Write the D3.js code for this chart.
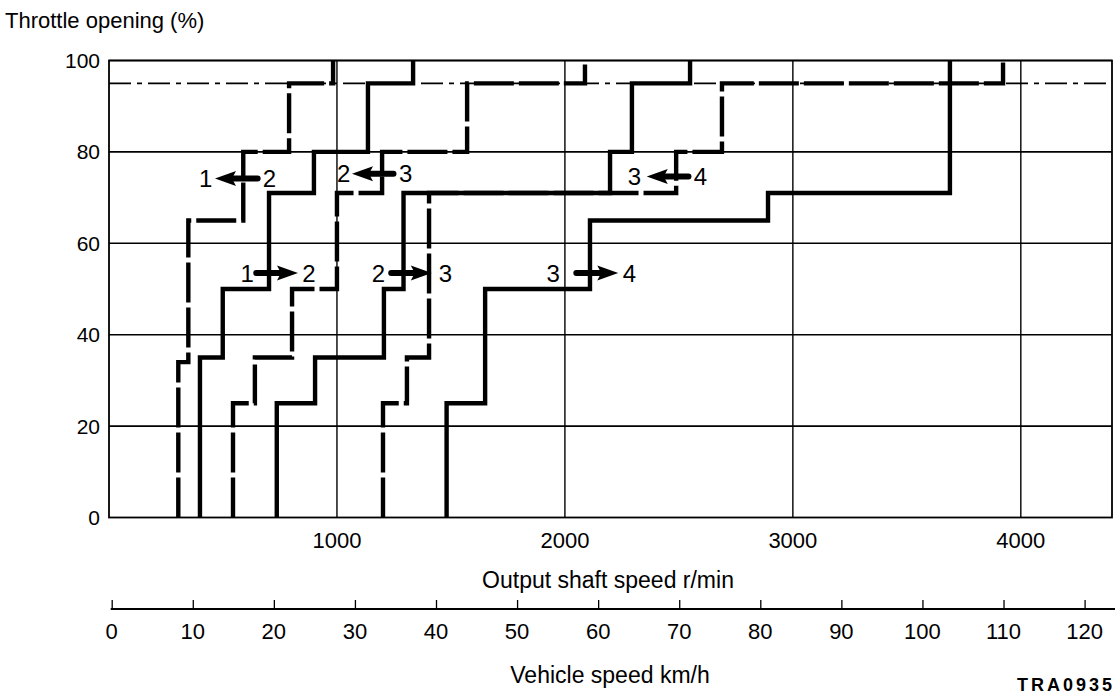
<!DOCTYPE html>
<html><head><meta charset="utf-8">
<script src="https://cdn.jsdelivr.net/npm/d3@7"></script>
<style>
html,body{margin:0;padding:0;background:#fff;}
svg text{font-family:"Liberation Sans",Arial,sans-serif;fill:#000;}
</style></head>
<body>
<svg id="chart" width="1115" height="699"></svg>
<script>
// ---- data ----
const rpmTicks = [1000, 2000, 3000, 4000];
const throttleTicks = [0, 20, 40, 60, 80, 100];
const speedTicks = [0, 10, 20, 30, 40, 50, 60, 70, 80, 90, 100, 110, 120];
const refThrottle = 95;

// shift lines: step break speeds (r/min) and throttle levels (%)
const down21Speeds = [304, 348, 589, 790, 983];
const down21Levels = [0, 34, 65, 80, 95, 100];
const up12Speeds = [399, 499, 702, 899, 1136, 1334];
const up12Levels = [0, 35, 50, 71, 80, 95, 100];
const down32Speeds = [544, 640, 803, 1000, 1198, 1571, 2088];
const down32Levels = [0, 25, 35, 50, 71, 80, 95, 100];
const up23Speeds = [736, 904, 1206, 1292, 2198, 2294, 2549];
const up23Levels = [0, 25, 35, 50, 71, 80, 95, 100];
const down43Speeds = [1202, 1307, 1404, 2488, 2689, 3922];
const down43Levels = [0, 25, 35, 71, 80, 95, 100];
const up34Speeds = [1481, 1650, 2110, 2891, 3689];
const up34Levels = [0, 25, 50, 65, 71, 100];

// arrow annotations
const arrowFrom = ["1", "1", "2", "2", "3", "3"];
const arrowTo = ["2", "2", "3", "3", "4", "4"];
const arrowTail = [652, 646, 1248, 1238, 2542, 2050];
const arrowTip = [465, 829, 1066, 1416, 2359, 2234];
const arrowThrottle = [74.2, 53.5, 75.2, 53.5, 74.6, 53.5];
const arrowLabelA = [424, 606, 1029, 1182, 2305, 1948];
const arrowLabelB = [704, 877, 1301, 1476, 2595, 2283];

// ---- drawing ----
const svg = d3.select("#chart");
const x = d3.scaleLinear().domain([0, 4400]).range([109, 1112]);
const y = d3.scaleLinear().domain([0, 100]).range([517.5, 60.5]);
const v = d3.scaleLinear().domain([0, 120]).range([111.7, 1084.6]);

// grid
svg.append("g").selectAll("line").data(throttleTicks.filter(d => d > 0)).join("line")
  .attr("x1", x(0)).attr("x2", x(4400)).attr("y1", d => y(d)).attr("y2", d => y(d))
  .attr("stroke", "#000").attr("stroke-width", 1.6);
svg.append("g").selectAll("line").data(rpmTicks).join("line")
  .attr("x1", d => x(d)).attr("x2", d => x(d)).attr("y1", y(0)).attr("y2", y(100))
  .attr("stroke", "#000").attr("stroke-width", 1.4);
// frame
svg.append("rect").attr("x", x(0)).attr("y", y(100)).attr("width", x(4400) - x(0)).attr("height", y(0) - y(100))
  .attr("fill", "none").attr("stroke", "#000").attr("stroke-width", 1.8);

// 95% reference dash-dot line
svg.append("line").attr("x1", x(0)).attr("x2", x(4400)).attr("y1", y(refThrottle)).attr("y2", y(refThrottle))
  .attr("stroke", "#000").attr("stroke-width", 1.6).attr("stroke-dasharray", "22,6,5,6");

// step curves
function stepPath(speeds, levels) {
  const pts = [];
  speeds.forEach((s, i) => { pts.push([x(s), y(levels[i])]); pts.push([x(s), y(levels[i + 1])]); });
  return d3.line()(pts);
}
const curves = [
  [down21Speeds, down21Levels, true],
  [down32Speeds, down32Levels, true],
  [down43Speeds, down43Levels, true],
  [up12Speeds, up12Levels, false],
  [up23Speeds, up23Levels, false],
  [up34Speeds, up34Levels, false]
];
curves.forEach(([s, l, dashed]) => {
  svg.append("path").attr("d", stepPath(s, l)).attr("fill", "none")
    .attr("stroke", "#000").attr("stroke-width", 4.4)
    .attr("stroke-linejoin", "miter").attr("stroke-linecap", "butt")
    .attr("stroke-dasharray", dashed ? "40,5" : null);
});

// arrows
arrowTail.forEach((t, i) => {
  const yy = y(arrowThrottle[i]);
  const x0 = x(t), x1 = x(arrowTip[i]);
  const dir = x1 > x0 ? 1 : -1;
  const headLen = 21, headW = 7.5;
  const xb = x1 - dir * headLen;
  svg.append("line").attr("x1", x0).attr("x2", xb + dir * 3).attr("y1", yy).attr("y2", yy)
    .attr("stroke", "#000").attr("stroke-width", 6).attr("stroke-linecap", "round");
  svg.append("path").attr("d", `M${x1},${yy}L${xb},${yy - headW}L${xb + dir * 4},${yy}L${xb},${yy + headW}Z`)
    .attr("fill", "#000");
  svg.append("text").attr("x", x(arrowLabelA[i])).attr("y", yy).attr("dy", "0.36em")
    .attr("text-anchor", "middle").attr("font-size", 24).text(arrowFrom[i]);
  svg.append("text").attr("x", x(arrowLabelB[i])).attr("y", yy).attr("dy", "0.36em")
    .attr("text-anchor", "middle").attr("font-size", 24).text(arrowTo[i]);
});

// y tick labels
svg.append("g").selectAll("text").data(throttleTicks).join("text")
  .attr("x", 100).attr("y", d => y(d)).attr("dy", "0.36em").attr("text-anchor", "end")
  .attr("font-size", 21).text(d => d);
// x tick labels (r/min)
svg.append("g").selectAll("text").data(rpmTicks).join("text")
  .attr("x", d => x(d)).attr("y", 540).attr("dy", "0.36em").attr("text-anchor", "middle")
  .attr("font-size", 22).text(d => d);
svg.append("text").attr("x", 608).attr("y", 580).attr("dy", "0.36em").attr("text-anchor", "middle")
  .attr("font-size", 23).text("Output shaft speed r/min");

// vehicle speed axis
const vAxis = d3.axisTop(v).tickValues(speedTicks).tickSize(9).tickFormat("");
const vg = svg.append("g").attr("transform", "translate(0,609)").call(vAxis);
vg.select(".domain").remove();
vg.selectAll(".tick line").attr("stroke", "#000").attr("stroke-width", 1.3);
svg.append("line").attr("x1", v(0) - 1).attr("x2", 1115).attr("y1", 609).attr("y2", 609)
  .attr("stroke", "#000").attr("stroke-width", 2.2);
svg.append("g").selectAll("text").data(speedTicks).join("text")
  .attr("x", d => v(d)).attr("y", 631).attr("dy", "0.36em").attr("text-anchor", "middle")
  .attr("font-size", 22).text(d => d);
svg.append("text").attr("x", 610).attr("y", 675).attr("dy", "0.36em").attr("text-anchor", "middle")
  .attr("font-size", 23).text("Vehicle speed km/h");

svg.append("text").attr("x", 5).attr("y", 20).attr("dy", "0.36em")
  .attr("font-size", 22).text("Throttle opening (%)");
svg.append("text").attr("x", 1017).attr("y", 685).attr("dy", "0.36em")
  .attr("font-size", 18).attr("font-weight", "bold").attr("letter-spacing", 3).text("TRA0935");
</script>
</body></html>
